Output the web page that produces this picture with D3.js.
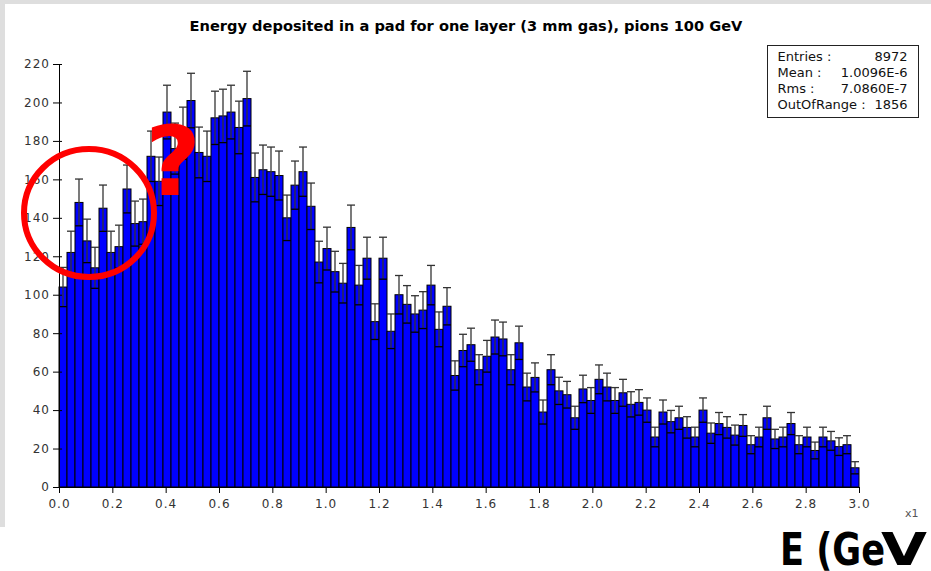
<!DOCTYPE html>
<html>
<head>
<meta charset="utf-8">
<script src="https://cdn.jsdelivr.net/npm/d3@7"></script>
<style>
  html, body { margin: 0; padding: 0; background: #ffffff; }
  svg { display: block; }
  .tick text { font-family: 'DejaVu Sans', sans-serif; font-size: 12px; fill: #333; letter-spacing: 1px; }
  .tick line, .domain { stroke: #000; }
</style>
</head>
<body>
<script>
/*
 * Histogram: energy deposited in a pad, one layer, pions 100 GeV.
 */

// canvas and plot area
const CANVAS_WIDTH = 931;
const CANVAS_HEIGHT = 571;
const PLOT_LEFT = 59;
const PLOT_RIGHT = 859;
const PLOT_TOP = 64;
const PLOT_BOT = 487;

const COLOR_BAR = '#0000ff';
const COLOR_ERR = '#333333';
const COLOR_MARK = '#ff0000';

// histogram range and counts (100 bins from 0.0 to 3.0)
const X_RANGE = [0, 3.0];
const Y_RANGE = [0, 220];
const COUNTS = [
  104, 122, 148, 128, 114, 145, 122, 125, 155, 137,
  138, 172, 159, 195, 176, 184, 201, 174, 172, 192,
  193, 195, 187, 202, 161, 165, 164, 162, 140, 157,
  164, 146, 117, 124, 112, 106, 135, 105, 119, 86,
  119, 81, 100, 95, 90, 92, 105, 82, 94, 58,
  71, 74, 61, 68, 78, 77, 61, 75, 52, 57,
  39, 61, 50, 48, 36, 51, 45, 56, 52, 45,
  49, 43, 44, 40, 26, 39, 34, 36, 31, 26,
  40, 28, 33, 31, 27, 32, 22, 26, 36, 25,
  26, 33, 22, 26, 19, 26, 24, 21, 22, 10
];

const X_TICKS = [0, 0.2, 0.4, 0.6, 0.8, 1.0, 1.2, 1.4, 1.6, 1.8, 2.0, 2.2, 2.4, 2.6, 2.8, 3.0];
const Y_TICKS = [0, 20, 40, 60, 80, 100, 120, 140, 160, 180, 200, 220];

const STAT_LABELS = ['Entries :', 'Mean :', 'Rms :', 'OutOfRange :'];
const STAT_VALUES = ['8972', '1.0096E-6', '7.0860E-7', '1856'];

const TITLE = 'Energy deposited in a pad for one layer (3 mm gas), pions 100 GeV';

const svg = d3.select('body')
  .append('svg')
    .attr('width', CANVAS_WIDTH)
    .attr('height', CANVAS_HEIGHT)
    .style('font-family', "'DejaVu Sans', sans-serif");

// grey window frame around the white panel
svg.append('rect')
    .attr('x', 0).attr('y', 0)
    .attr('width', CANVAS_WIDTH).attr('height', 527)
    .attr('fill', '#dedede');
svg.append('rect')
    .attr('x', 5).attr('y', 4)
    .attr('width', CANVAS_WIDTH - 5).attr('height', 523)
    .attr('fill', '#ffffff');

// cut-off blue text at the very top
svg.append('text')
    .attr('x', 108).attr('y', -4)
    .attr('font-size', 16)
    .attr('fill', '#3b3bff')
    .text('g     p');

// title
svg.append('text')
    .attr('x', 466)
    .attr('y', 31)
    .attr('text-anchor', 'middle')
    .attr('font-size', 14.6)
    .attr('font-weight', 'bold')
    .attr('fill', '#000')
    .text(TITLE);

const xScale = d3.scaleLinear()
    .domain(X_RANGE)
    .range([PLOT_LEFT, PLOT_RIGHT]);

const yScale = d3.scaleLinear()
    .domain(Y_RANGE)
    .range([PLOT_BOT, PLOT_TOP]);

const binWidth = (X_RANGE[1] - X_RANGE[0]) / COUNTS.length;
const bins = COUNTS.map((n, i) => ({
  x0: X_RANGE[0] + i * binWidth,
  x1: X_RANGE[0] + (i + 1) * binWidth,
  n: n
}));

// bars
svg.append('g')
  .selectAll('rect')
  .data(bins)
  .enter()
  .append('rect')
    .attr('x', d => xScale(d.x0))
    .attr('y', d => yScale(d.n))
    .attr('width', d => xScale(d.x1) - xScale(d.x0))
    .attr('height', d => yScale(0) - yScale(d.n))
    .attr('fill', COLOR_BAR)
    .attr('stroke', '#000')
    .attr('stroke-width', 1);

// error bars (statistical, sqrt N)
const errs = svg.append('g')
    .attr('stroke', COLOR_ERR)
    .attr('stroke-width', 1.3);

bins.forEach(d => {
  const cx = xScale((d.x0 + d.x1) / 2);
  const half = (xScale(d.x1) - xScale(d.x0)) / 2;
  const lo = yScale(d.n - Math.sqrt(d.n));
  const hi = yScale(d.n + Math.sqrt(d.n));
  errs.append('line')
      .attr('x1', cx).attr('x2', cx)
      .attr('y1', lo).attr('y2', hi);
  errs.append('line')
      .attr('x1', cx - half).attr('x2', cx + half)
      .attr('y1', hi).attr('y2', hi);
  errs.append('line')
      .attr('x1', cx - half).attr('x2', cx + half)
      .attr('y1', lo).attr('y2', lo)
      .attr('stroke', '#000');
});

// axes
const yAxis = d3.axisLeft(yScale)
    .tickValues(Y_TICKS)
    .tickSizeInner(6)
    .tickSizeOuter(0)
    .tickPadding(3);

svg.append('g')
    .attr('id', 'y-axis')
    .attr('transform', `translate(${PLOT_LEFT}, 0)`)
    .call(yAxis)
    .call(g => g.selectAll('.tick line').attr('x1', 3));

const xAxis = d3.axisBottom(xScale)
    .tickValues(X_TICKS)
    .tickSizeInner(6)
    .tickSizeOuter(0)
    .tickPadding(6)
    .tickFormat(d3.format('.1f'));

svg.append('g')
    .attr('id', 'x-axis')
    .attr('transform', `translate(0, ${PLOT_BOT})`)
    .call(xAxis);

svg.append('text')
    .attr('x', 905)
    .attr('y', 517)
    .attr('font-size', 11)
    .attr('fill', '#555')
    .text('x1');

// statistics box
const stats = svg.append('g')
    .attr('transform', 'translate(767.5, 45.5)');

stats.append('rect')
    .attr('width', 151)
    .attr('height', 72)
    .attr('fill', '#fff')
    .attr('stroke', '#222');

STAT_LABELS.forEach((label, i) => {
  stats.append('text')
      .attr('x', 10)
      .attr('y', 15 + i * 16)
      .attr('font-size', 13)
      .attr('fill', '#111')
      .text(label);
  stats.append('text')
      .attr('x', 140)
      .attr('y', 15 + i * 16)
      .attr('text-anchor', 'end')
      .attr('font-size', 13)
      .attr('fill', '#111')
      .text(STAT_VALUES[i]);
});

// red hand-drawn annotations
svg.append('ellipse')
    .attr('cx', 89)
    .attr('cy', 213)
    .attr('rx', 65)
    .attr('ry', 64)
    .attr('fill', 'none')
    .attr('stroke', COLOR_MARK)
    .attr('stroke-width', 6);

svg.append('text')
    .attr('x', 173)
    .attr('y', 195)
    .attr('text-anchor', 'middle')
    .attr('font-size', 96)
    .attr('font-weight', 'bold')
    .attr('fill', COLOR_MARK)
    .text('?');

// large axis caption, running off the right edge as in the slide
svg.append('text')
    .attr('transform', 'translate(780, 565) scale(0.8, 1)')
    .attr('font-size', 44)
    .attr('font-weight', 'bold')
    .attr('fill', '#000')
    .text('E (Ge');

const capV = svg.append('text')
    .attr('transform', 'translate(881, 565) scale(1.35, 1)')
    .attr('font-size', 44)
    .attr('font-weight', 'bold')
    .attr('fill', '#000')
    .text('V');
capV.append('tspan')
    .attr('dx', 12)
    .text(')');
</script>
</body>
</html>
